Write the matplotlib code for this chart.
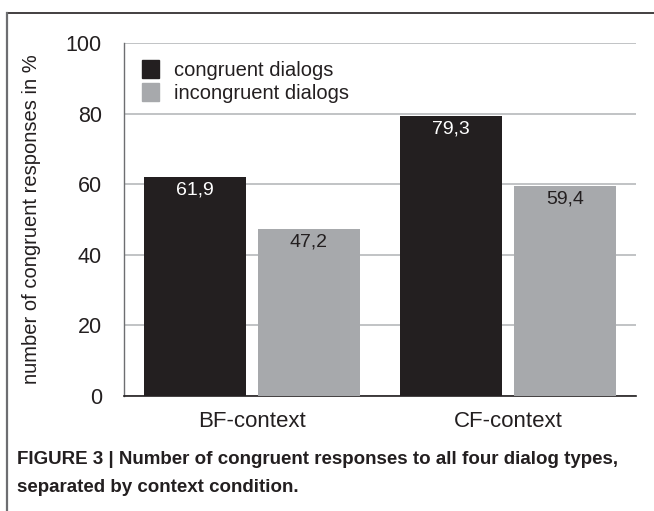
import matplotlib
matplotlib.use("Agg")
import matplotlib.pyplot as plt
from matplotlib.lines import Line2D
from matplotlib.patches import Rectangle
import numpy as np

plt.rcParams['font.family'] = ['Liberation Sans', 'DejaVu Sans']

categories = ["BF-context", "CF-context"]
congruent = [61.9, 79.3]
incongruent = [47.2, 59.4]
series_names = ["congruent dialogs", "incongruent dialogs"]
yticks = [0, 20, 40, 60, 80, 100]
caption1 = "FIGURE 3 | Number of congruent responses to all four dialog types,"
caption2 = "separated by context condition."

dark = "#231f20"
grey = "#a7a9ac"
grid_c = "#bcbec0"

fig = plt.figure(figsize=(6.54, 5.11), dpi=100)
ax = fig.add_axes([124/654, 1-396/511, (636-124)/654, (396-43)/511])

x = np.arange(len(categories))
w = 0.4
off = 0.2215
b1 = ax.bar(x - off, congruent, w, color=dark, zorder=3)
b2 = ax.bar(x + off, incongruent, w, color=grey, zorder=3)

for rect, v in zip(b1, congruent):
    ax.text(rect.get_x() + rect.get_width()/2, v - 1.2, f"{v:.1f}".replace(".", ","),
            ha="center", va="top", color="white", fontsize=14, zorder=4)
for rect, v in zip(b2, incongruent):
    ax.text(rect.get_x() + rect.get_width()/2, v - 1.2, f"{v:.1f}".replace(".", ","),
            ha="center", va="top", color="#231f20", fontsize=14, zorder=4)

ax.set_xlim(-0.5, 1.5)
ax.set_ylim(0, 100)
ax.set_yticks(yticks)
ax.set_yticklabels([str(t) for t in yticks], fontsize=15.5)
ax.set_xticks(x)
ax.set_xticklabels(categories, fontsize=16)
ax.tick_params(axis="y", length=0, pad=16, colors="#231f20")
ax.tick_params(axis="x", length=0, pad=11, colors="#231f20")
ax.yaxis.grid(True, color=grid_c, linewidth=1.3, zorder=0)
ax.set_axisbelow(True)
for s in ["top", "right"]:
    ax.spines[s].set_visible(False)
ax.spines["left"].set_color("#6d6e71")
ax.spines["left"].set_linewidth(1.0)
ax.spines["bottom"].set_color("#231f20")
ax.spines["bottom"].set_linewidth(1.2)

ax.set_ylabel("number of congruent responses in %", fontsize=14.5, color="#231f20", labelpad=18)

# legend
handles = [Rectangle((0, 0), 1, 1, color=dark), Rectangle((0, 0), 1, 1, color=grey)]
leg = ax.legend(handles, series_names, loc="upper left", bbox_to_anchor=(0.012, 0.985),
                frameon=False, fontsize=14.5, handlelength=0.85, handleheight=1.0,
                handletextpad=0.75, labelspacing=0.12, borderaxespad=0.2)
for t in leg.get_texts():
    t.set_color("#231f20")

# frame
fig.add_artist(Line2D([7/654, 1.0], [1-13/511, 1-13/511], transform=fig.transFigure,
                      color="#231f20", linewidth=1.2))
fig.add_artist(Line2D([7/654, 7/654], [0, 1-13/511], transform=fig.transFigure,
                      color="#6d6e71", linewidth=1.6))

fig.text(17/654, 1-460/511, caption1, fontsize=13.5, fontweight="bold", va="center",
         ha="left", color="#231f20")
fig.text(17/654, 1-487/511, caption2, fontsize=13.5, fontweight="bold", va="center",
         ha="left", color="#231f20")

fig.savefig("out.png", dpi=100)
